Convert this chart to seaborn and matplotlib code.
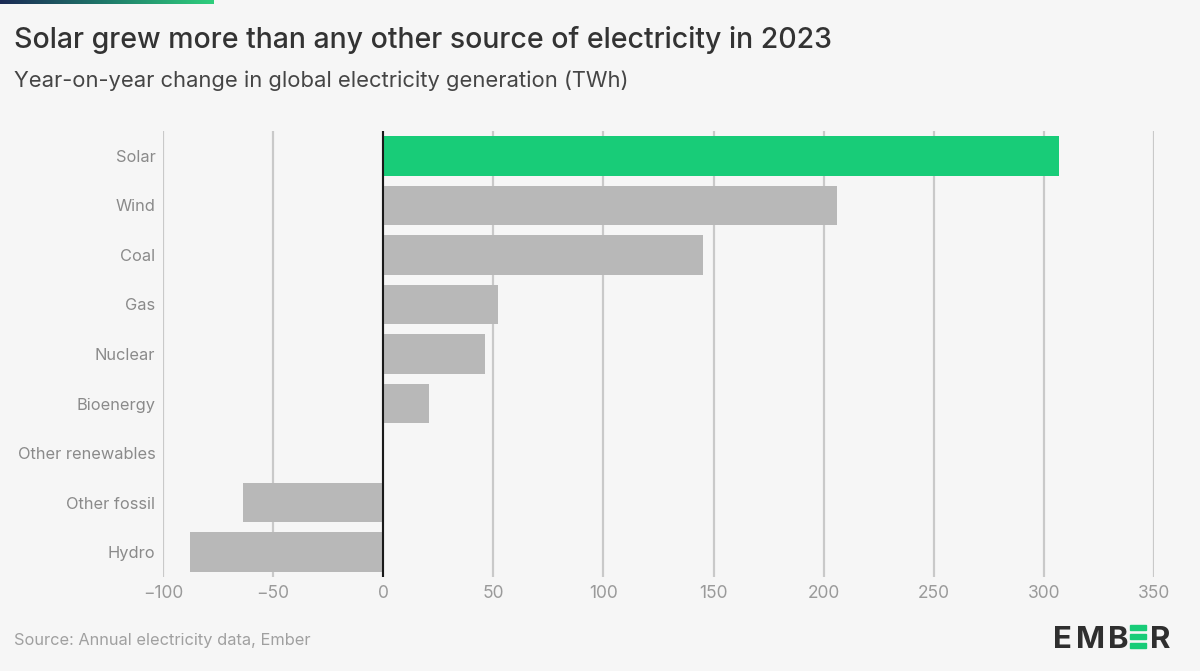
import numpy as np
import pandas as pd
import matplotlib.pyplot as plt
import seaborn as sns
from matplotlib.patches import Rectangle
from matplotlib.colors import LinearSegmentedColormap

# Data (TWh, year-on-year change 2023)
sources = ["Solar", "Wind", "Coal", "Gas", "Nuclear", "Bioenergy",
           "Other renewables", "Other fossil", "Hydro"]
change_twh = [307, 206, 145, 52, 46, 21, 0, -63.5, -87.7]
x_ticks = [-100, -50, 0, 50, 100, 150, 200, 250, 300, 350]
x_tick_labels = ["\u2212100", "\u221250", "0", "50", "100", "150", "200", "250", "300", "350"]

GREEN = "#18cc78"
GREY = "#b8b8b8"
BG = "#f6f6f6"

df = pd.DataFrame({"source": sources, "change": change_twh})
palette = {s: (GREEN if s == "Solar" else GREY) for s in sources}

sns.set_style("white")
plt.rcParams["font.family"] = ["Inter", "DejaVu Sans"]

fig = plt.figure(figsize=(12, 6.71), dpi=100)
fig.patch.set_facecolor(BG)

ax = fig.add_axes([163 / 1200, 1 - 577 / 671, (1154 - 163) / 1200, (577 - 131) / 671])
ax.set_facecolor(BG)

sns.barplot(data=df, x="change", y="source", hue="source", palette=palette,
            order=sources, orient="h", width=0.8, legend=False,
            saturation=1, linewidth=0, ax=ax, zorder=3)

ax.set_xlim(-100, 350)
ax.set_ylim(len(sources) - 0.5, -0.5)
ax.set_xticks(x_ticks)
ax.set_xticklabels(x_tick_labels)
ax.grid(axis="x", color="#c9c9c9", linewidth=1.6, zorder=0)
ax.grid(axis="y", visible=False)
ax.axvline(0, color="#1a1a1a", linewidth=1.5, zorder=4)
for sp in ax.spines.values():
    sp.set_visible(False)
ax.set_xlabel("")
ax.set_ylabel("")
ax.tick_params(axis="y", length=0, pad=5.5, labelsize=11.8, labelcolor="#8a8a8a")
ax.tick_params(axis="x", length=0, pad=6, labelsize=12.5, labelcolor="#9a9a9a")

# Titles
fig.text(14 / 1200, 1 - 40 / 671, "Solar grew more than any other source of electricity in 2023",
         fontsize=20.5, fontweight="medium", color="#333333", va="center", ha="left")
fig.text(14 / 1200, 1 - 81 / 671, "Year-on-year change in global electricity generation (TWh)",
         fontsize=15.8, fontweight="normal", color="#454545", va="center", ha="left")
fig.text(14 / 1200, 1 - 641 / 671, "Source: Annual electricity data, Ember",
         fontsize=11.8, color="#a0a0a0", va="center", ha="left")

# Gradient strip at the top
gax = fig.add_axes([0, 1 - 4 / 671, 214 / 1200, 4 / 671])
grad = np.linspace(0, 1, 256).reshape(1, -1)
cmap = LinearSegmentedColormap.from_list("ember", ["#1b2a55", "#1f7a6a", "#2fcf7d"])
gax.imshow(grad, aspect="auto", cmap=cmap)
gax.axis("off")

# EMBER logo, letter by letter
for letter, lx in (("E", 1053), ("M", 1076), ("B", 1108), ("R", 1150)):
    fig.text(lx / 1200, 1 - 648 / 671, letter, fontsize=22.5, fontweight="bold",
             color="#2f2f2f", ha="left", va="baseline")
for top in (625, 634, 643):
    fig.patches.append(Rectangle((1130 / 1200, 1 - (top + 5) / 671), 16 / 1200, 5 / 671,
                                 transform=fig.transFigure, color=GREEN, zorder=5))

fig.savefig("out.png", dpi=100, facecolor=BG)
